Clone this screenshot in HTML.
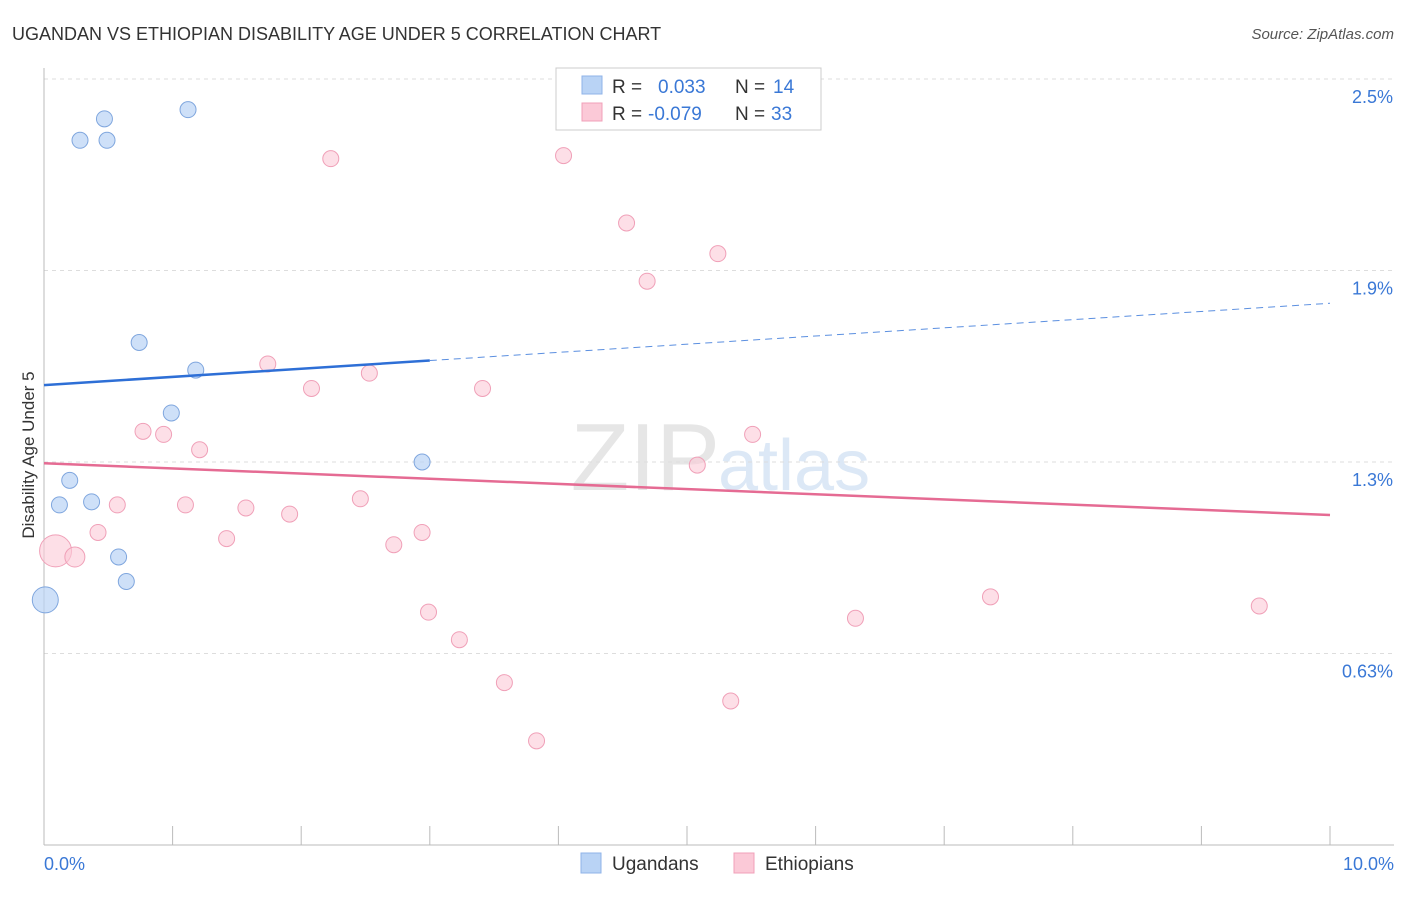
<!DOCTYPE html>
<html><head><meta charset="utf-8"><style>
body{margin:0;background:#fff;font-family:"Liberation Sans",sans-serif}
svg text{font-family:"Liberation Sans",sans-serif}
</style></head><body>
<svg id="chart" width="1406" height="892">
<text x="12" y="40" font-size="18" fill="#333">UGANDAN VS ETHIOPIAN DISABILITY AGE UNDER 5 CORRELATION CHART</text>
<text x="1394" y="39" font-size="15" fill="#555" text-anchor="end" font-style="italic">Source: ZipAtlas.com</text>
<text x="720" y="490" font-size="96" fill="#e6e6e6" text-anchor="end" font-family="Liberation Serif">ZIP</text>
<text x="718" y="490" font-size="72" fill="#dce8f6">atlas</text>
<g id="grid"></g><g id="axes"></g><g id="marks"></g>
<text transform="translate(34,455) rotate(-90)" font-size="17" fill="#333" text-anchor="middle">Disability Age Under 5</text>
<g>
<rect x="556" y="68" width="265" height="62" fill="#fff" stroke="#ccc"/>
<rect x="582" y="76" width="20" height="18" fill="#b9d3f5" stroke="#8fb3e8"/>
<rect x="582" y="103" width="20" height="18" fill="#fbc9d7" stroke="#f0a0b8"/>
<text x="612" y="93" font-size="19" fill="#333">R =</text>
<text x="658" y="93" font-size="19" fill="#3a78d6">0.033</text>
<text x="735" y="93" font-size="19" fill="#333">N =</text>
<text x="773" y="93" font-size="19" fill="#3a78d6">14</text>
<text x="612" y="120" font-size="19" fill="#333">R =</text>
<text x="648" y="120" font-size="19" fill="#3a78d6">-0.079</text>
<text x="735" y="120" font-size="19" fill="#333">N =</text>
<text x="771" y="120" font-size="19" fill="#3a78d6">33</text>
</g>
<g>
<rect x="581" y="853" width="20" height="20" fill="#b9d3f5" stroke="#8fb3e8"/>
<text x="612" y="870" font-size="19" fill="#333">Ugandans</text>
<rect x="734" y="853" width="20" height="20" fill="#fbc9d7" stroke="#f0a0b8"/>
<text x="765" y="870" font-size="19" fill="#333">Ethiopians</text>
</g>
</svg>
<script>
const yTicks=[2.5,1.875,1.25,0.625];
const yTickLabels=["2.5%","1.9%","1.3%","0.63%"];
const xTicks=[0,1,2,3,4,5,6,7,8,9,10];
const ugX=[0.28,0.47,0.49,1.12,0.74,1.18,0.99,2.94,0.20,0.12,0.37,0.58,0.64,0.01];
const ugY=[2.30,2.37,2.30,2.40,1.64,1.55,1.41,1.25,1.19,1.11,1.12,0.94,0.86,0.80];
const ugR=[8,8,8,8,8,8,8,8,8,8,8,8,8,13];
const etX=[2.23,4.04,4.53,5.24,4.69,1.74,2.08,2.53,3.41,0.77,0.93,1.21,5.51,5.08,2.46,0.57,1.10,1.57,1.91,0.42,1.42,2.72,2.94,0.09,0.24,2.99,3.23,3.58,3.83,5.34,6.31,7.36,9.45];
const etY=[2.24,2.25,2.03,1.93,1.84,1.57,1.49,1.54,1.49,1.35,1.34,1.29,1.34,1.24,1.13,1.11,1.11,1.10,1.08,1.02,1.00,0.98,1.02,0.96,0.94,0.76,0.67,0.53,0.34,0.47,0.74,0.81,0.78];
const etR=[8,8,8,8,8,8,8,8,8,8,8,8,8,8,8,8,8,8,8,8,8,8,8,16,10,8,8,8,8,8,8,8,8];
const ugTrend=[1.501,1.768];
const etTrend=[1.246,1.077];
const NS="http://www.w3.org/2000/svg";
const X=v=>44+v*128.6, Y=v=>845-v*306.4;
function mk(t,a,p){const e=document.createElementNS(NS,t);for(const k in a)e.setAttribute(k,a[k]);p.appendChild(e);return e;}
const grid=document.getElementById('grid'),axes=document.getElementById('axes'),marks=document.getElementById('marks');
yTicks.forEach((v,i)=>{
 const l=mk('line',{x1:44,x2:1394,y1:Y(v),y2:Y(v),stroke:'#ddd','stroke-dasharray':'4,4'},grid);
 
 
 const t=mk('text',{x:1393,y:Y(v)+24,'font-size':18,fill:'#3a78d6','text-anchor':'end'},axes);
 t.textContent=yTickLabels[i];
 
 
});
mk('line',{x1:44,x2:44,y1:68,y2:845,stroke:'#bbb'},axes);
mk('line',{x1:44,x2:1394,y1:845,y2:845,stroke:'#bbb'},axes);
xTicks.forEach(v=>{const l=mk('line',{x1:X(v),x2:X(v),y1:826,y2:845,stroke:'#bbb'},axes);
 
 });
let t=mk('text',{x:44,y:870,'font-size':18,fill:'#3a78d6'},axes);t.textContent="0.0%";


t=mk('text',{x:1394,y:870,'font-size':18,fill:'#3a78d6','text-anchor':'end'},axes);t.textContent="10.0%";


etX.forEach((v,i)=>{const c=mk('circle',{cx:X(v),cy:Y(etY[i]),r:etR[i],fill:'#fbc9d7','fill-opacity':0.6,stroke:'#f0a0b8'},marks);
 
 });
ugX.forEach((v,i)=>{const c=mk('circle',{cx:X(v),cy:Y(ugY[i]),r:ugR[i],fill:'#b9d3f5','fill-opacity':0.7,stroke:'#7fa6de'},marks);
 
 });
const ugAt=x=>ugTrend[0]+(ugTrend[1]-ugTrend[0])*x/10;
let l=mk('line',{x1:X(0),y1:Y(ugAt(0)),x2:X(3),y2:Y(ugAt(3)),stroke:'#2e6fd6','stroke-width':2.5},marks);


l=mk('line',{x1:X(3),y1:Y(ugAt(3)),x2:X(10),y2:Y(ugAt(10)),stroke:'#5b8fe0','stroke-width':1,'stroke-dasharray':'7,5'},marks);


l=mk('line',{x1:X(0),y1:Y(etTrend[0]),x2:X(10),y2:Y(etTrend[1]),stroke:'#e56b93','stroke-width':2.5},marks);


</script>
</body></html>
